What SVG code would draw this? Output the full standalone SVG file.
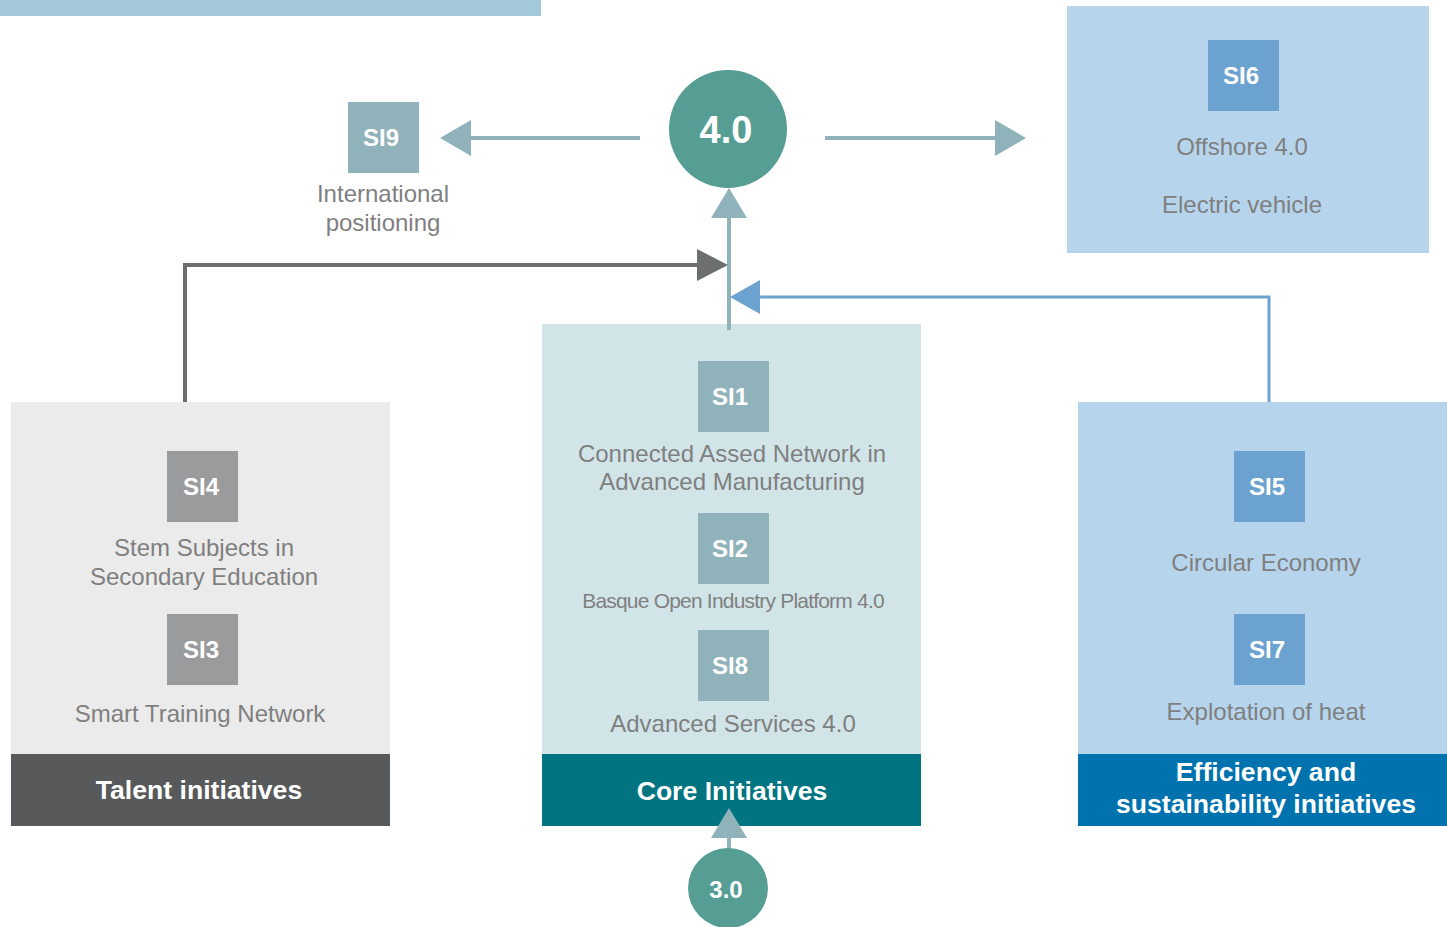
<svg xmlns="http://www.w3.org/2000/svg" width="1447" height="927" viewBox="0 0 1447 927">
<defs>
<style>
.lbl{font-family:"Liberation Sans",Arial,sans-serif;font-size:24px;fill:#7f7f7f;text-anchor:middle}
.si{font-family:"Liberation Sans",Arial,sans-serif;font-size:24px;font-weight:bold;fill:#ffffff;text-anchor:middle}
.ftr{font-family:"Liberation Sans",Arial,sans-serif;font-size:26.6px;font-weight:bold;fill:#ffffff;text-anchor:middle}
.big{font-family:"Liberation Sans",Arial,sans-serif;font-weight:bold;fill:#ffffff;text-anchor:middle}
</style>
</defs>
<rect width="1447" height="927" fill="#ffffff"/>
<rect x="0" y="0" width="541" height="16" fill="#a3c9d8"/>

<g id="panel-talent">
<rect x="11" y="402" width="379" height="352" fill="#ebebeb"/>
<rect x="11" y="754" width="379" height="72" fill="#58595b"/>
<text class="ftr" x="199" y="799">Talent initiatives</text>
</g>
<g id="SI4">
<rect x="167" y="451" width="71" height="71" fill="#9a9b9c"/>
<text class="si" x="201" y="495">SI4</text>
<text class="lbl" x="204" y="556">Stem Subjects in</text>
<text class="lbl" x="204" y="585">Secondary Education</text>
</g>
<g id="SI3">
<rect x="167" y="614" width="71" height="71" fill="#9a9b9c"/>
<text class="si" x="201" y="658">SI3</text>
<text class="lbl" x="200" y="722">Smart Training Network</text>
</g>

<g id="panel-core">
<rect x="542" y="324" width="379" height="430" fill="#d1e5e9"/>
<rect x="542" y="754" width="379" height="72" fill="#007480"/>
<text class="ftr" x="732" y="800">Core Initiatives</text>
</g>
<g id="SI1">
<rect x="698" y="361" width="71" height="71" fill="#90b2ba"/>
<text class="si" x="730" y="405">SI1</text>
<text class="lbl" x="732" y="462">Connected Assed Network in</text>
<text class="lbl" x="732" y="490">Advanced Manufacturing</text>
</g>
<g id="SI2">
<rect x="698" y="513" width="71" height="71" fill="#90b2ba"/>
<text class="si" x="730" y="557">SI2</text>
<text class="lbl" x="733" y="608" style="font-size:21px;letter-spacing:-0.8px">Basque Open Industry Platform 4.0</text>
</g>
<g id="SI8">
<rect x="698" y="630" width="71" height="71" fill="#90b2ba"/>
<text class="si" x="730" y="674">SI8</text>
<text class="lbl" x="733" y="732">Advanced Services 4.0</text>
</g>

<g id="panel-efficiency">
<rect x="1078" y="402" width="369" height="352" fill="#b6d5ed"/>
<rect x="1078" y="754" width="369" height="72" fill="#0073ae"/>
<text class="ftr" x="1266" y="781">Efficiency and</text>
<text class="ftr" x="1266" y="813">sustainability initiatives</text>
</g>
<g id="SI5">
<rect x="1234" y="451" width="71" height="71" fill="#6ca2d0"/>
<text class="si" x="1267" y="495">SI5</text>
<text class="lbl" x="1266" y="571">Circular Economy</text>
</g>
<g id="SI7">
<rect x="1234" y="614" width="71" height="71" fill="#6ca2d0"/>
<text class="si" x="1267" y="658">SI7</text>
<text class="lbl" x="1266" y="720">Explotation of heat</text>
</g>

<g id="panel-SI6">
<rect x="1067" y="6" width="362" height="247" fill="#b6d5ed"/>
<rect x="1208" y="40" width="71" height="71" fill="#6ca2d0"/>
<text class="si" x="1241" y="84">SI6</text>
<text class="lbl" x="1242" y="155">Offshore 4.0</text>
<text class="lbl" x="1242" y="213">Electric vehicle</text>
</g>

<g id="SI9">
<rect x="348" y="102" width="71" height="71" fill="#90b2ba"/>
<text class="si" x="381" y="146">SI9</text>
<text class="lbl" x="383" y="202">International</text>
<text class="lbl" x="383" y="231">positioning</text>
</g>

<g id="connectors">
<line x1="640" y1="138" x2="468" y2="138" stroke="#90b2ba" stroke-width="4"/>
<polygon points="440,138 471,120 471,156" fill="#90b2ba"/>
<line x1="825" y1="138" x2="998" y2="138" stroke="#90b2ba" stroke-width="4"/>
<polygon points="1026,138 995,120 995,156" fill="#90b2ba"/>
<line x1="729" y1="330" x2="729" y2="215" stroke="#90b2ba" stroke-width="4"/>
<polygon points="729,188 711,218 747,218" fill="#90b2ba"/>
<polyline points="185,402 185,265 700,265" fill="none" stroke="#6d6e70" stroke-width="4"/>
<polygon points="728,265 697,249 697,281" fill="#6d6e70"/>
<polyline points="1269,402 1269,297 757,297" fill="none" stroke="#6ca2d0" stroke-width="3"/>
<polygon points="730,297 760,280 760,314" fill="#6ca2d0"/>
<line x1="729" y1="850" x2="729" y2="835" stroke="#90b2ba" stroke-width="4"/>
<polygon points="729,808 711,838 747,838" fill="#90b2ba"/>
</g>

<g id="node-4-0">
<circle cx="728" cy="129" r="59" fill="#569e94"/>
<text class="big" x="726" y="143" font-size="38">4.0</text>
</g>
<g id="node-3-0">
<circle cx="728" cy="888" r="40" fill="#569e94"/>
<text class="big" x="726" y="898" font-size="24">3.0</text>
</g>
</svg>
